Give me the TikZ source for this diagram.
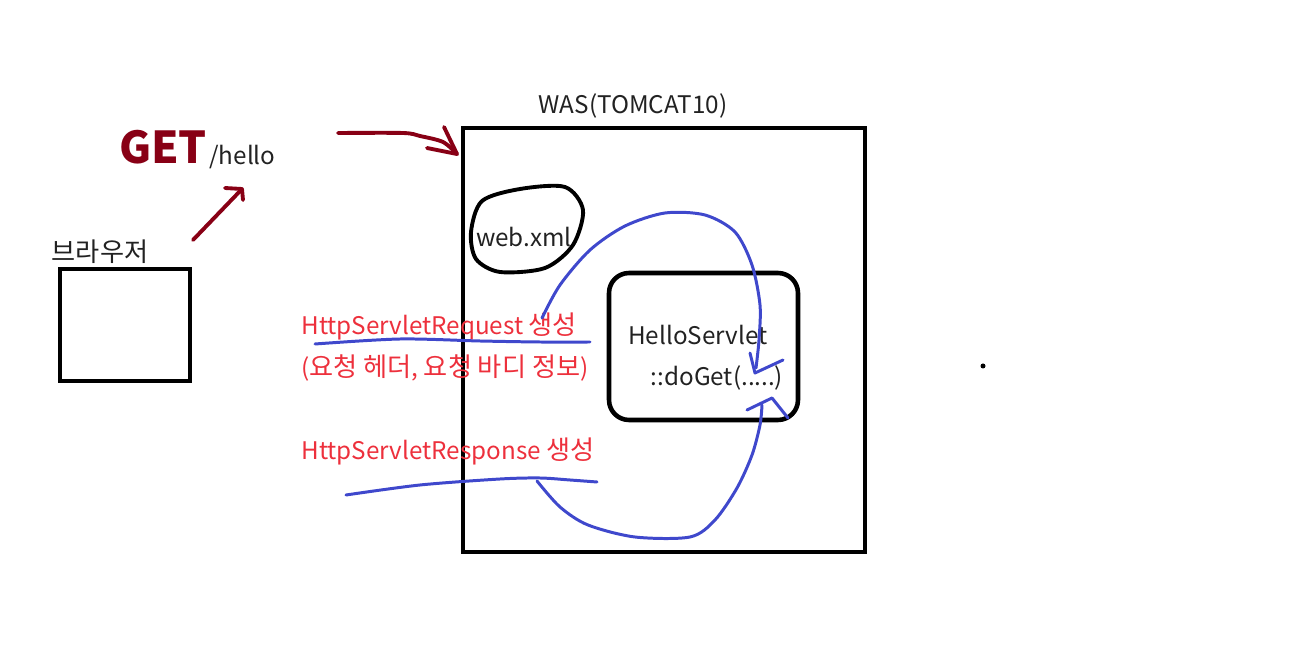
\documentclass[tikz,border=0pt]{standalone}
\usepackage{fontspec}
\setmainfont{Noto Sans CJK KR}
\newfontfamily\kr{Noto Sans CJK KR}[Scale=1.08]
\usetikzlibrary{positioning}

\definecolor{inkred}{RGB}{136,0,21}
\definecolor{penblue}{RGB}{63,72,204}
\definecolor{notered}{RGB}{237,48,60}
\definecolor{darktext}{RGB}{34,34,34}

\begin{document}
\begin{tikzpicture}[x=0.02cm, y=-0.02cm,
  box/.style={draw=black, line width=2.6pt},
  lbl/.style={text=darktext, font=\fontsize{13.8}{16}\selectfont, inner sep=0pt},
  note/.style={text=notered, font=\fontsize{13.8}{16}\selectfont, inner sep=0pt, anchor=west},
  pen/.style={draw=penblue, line width=1.7pt, line cap=round, line join=round},
  ink/.style={draw=inkred, line width=2.2pt, line cap=round, line join=round}]
\useasboundingbox (0,0) rectangle (1303,648);

% browser
\node[box, minimum width=2.6cm, minimum height=2.24cm] (browser) at (125,325) {};
\node[lbl] (browserlbl) at (100,252) {\kr 브라우저};

% request line
\node[text=inkred, font=\fontsize{25}{30}\bfseries, inner sep=0pt] (get) at (163,147) {GET};
\node[lbl, anchor=west] (hello) at (209,157) {/hello};

\coordinate (a1) at (193,240);
\coordinate (a1tip) at (242,189);
\draw[ink] (a1) -- (a1tip);
\draw[ink] (225,188) -- (a1tip) -- (243,200);

\coordinate (a2) at (338,133);
\coordinate (a2tip) at (457,154);
\draw[ink] plot[smooth] coordinates {(a2) (403,133) (420,136) (443,142) (a2tip)};
\draw[ink] (444,127) -- (a2tip) -- (427,148);

% tomcat
\node[box, minimum width=8.04cm, minimum height=8.48cm] (was) at (664,340) {};
\node[lbl] (waslbl) at (633,106) {WAS(TOMCAT10)};

\draw[line width=2.2pt] plot[smooth cycle] coordinates {(471,232) (482,201) (520,189) (565,187) (583,210) (573,245) (545,268) (500,272) (476,259)};
\node[lbl] (webxml) at (524,237) {web.xml};

\node[box, rounded corners=0.4cm, minimum width=3.78cm, minimum height=2.94cm] (servlet) at (703.5,346.5) {};
\node[lbl] (servletname) at (698,335) {HelloServlet};
\node[lbl] (doget) at (717,378) {::doGet(.....)};

% request / response objects
\node[note] (req) at (301,326) {HttpServletRequest {\kr 생성}};
\node[note] (reqinfo) at (301,368) {({\kr 요청 헤더}, {\kr 요청 바디 정보})};
\node[note] (res) at (301,451) {HttpServletResponse {\kr 생성}};

\draw[pen] plot[smooth] coordinates {(315,344) (400,339) (480,341) (540,342) (590,342)};
\draw[pen] plot[smooth] coordinates {(542,318) (560,285) (590,250) (625,226) (665,213) (705,215) (735,232) (752,265) (760,305) (759,340) (756,368)};
\draw[pen] (750,353) -- (755,373) -- (783,360);

\draw[pen] plot[smooth] coordinates {(346,495) (420,485) (500,479) (540,478) (570,480) (597,482)};
\draw[pen] plot[smooth] coordinates {(537,481) (560,507) (588,525) (635,537) (690,537) (715,520) (737,488) (752,455) (760,425) (762,405)};
\draw[pen] (747,410) -- (772,398) -- (788,418);

\fill (983,366) circle (2.5);
\end{tikzpicture}
\end{document}
